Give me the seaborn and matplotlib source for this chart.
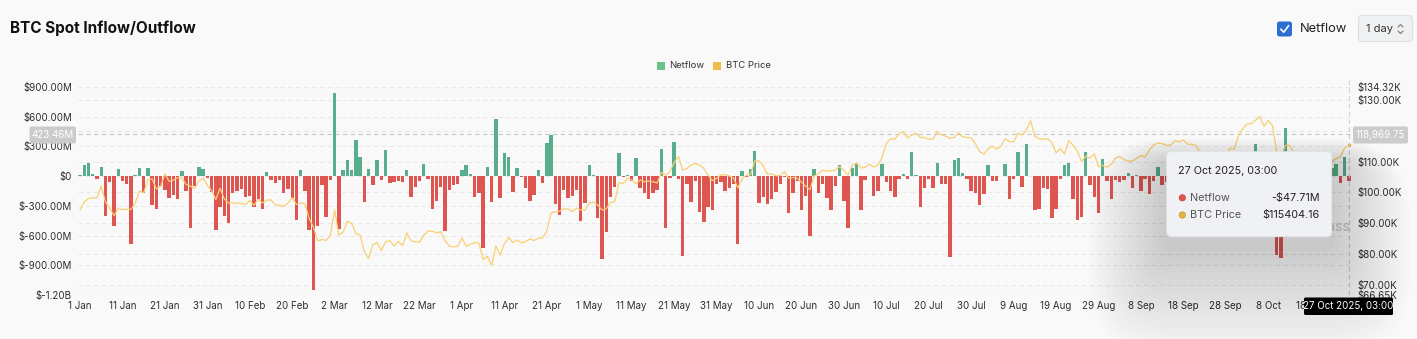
import numpy as np
import pandas as pd
import matplotlib
matplotlib.use("Agg")
import matplotlib.pyplot as plt
import matplotlib.transforms as mtransforms
from matplotlib.patches import FancyBboxPatch, Rectangle, Circle
import seaborn as sns

W, H = 1417, 339

# ---------------- data ----------------
dates = pd.date_range("2025-01-01", "2025-10-27", freq="D")

netflow_musd = [
    8, 110, 128, 25, -25, 95, -400, -60, -505, 70,
    -50, -75, -690, 15, 85, -170, 80, -295, -335, -95,
    -140, -220, -195, -235, 50, -155, -520, -95, 95, 75,
    -20, -165, -540, -315, -405, -470, -170, -150, -125, -215,
    -200, -310, -235, -330, 45, -40, -65, -35, -170, -125,
    -219, -444, 67, -145, -539, -1151, -505, -94, -411, -40,
    835, -529, 67, 158, 67, 360, 195, -262, 74, -91,
    158, -40, 259, -67, -57, -44, -61, 67, -209, -108,
    -51, 125, -27, -330, -253, -108, -556, -135, -94, -77,
    61, 108, 24, -212, -168, -724, 94, -263, 579, -219,
    230, 195, -162, 84, -10, -118, -253, -192, 61, -74,
    337, 411, -279, -394, -135, -219, -202, -141, -455, -276,
    108, 13, -421, -835, -566, -212, -111, 232, -13, 8,
    -51, 185, -118, -168, -229, -168, -135, 276, -525, -20,
    343, -27, -808, -84, -259, -51, -361, -465, -313, -337,
    -84, -57, -145, -118, -84, -690, 47, -5, 74, 253,
    -269, -212, -279, -229, -162, -84, -8, -370, -168, -50,
    -343, -202, -606, 74, -168, -84, -219, -343, -101, 111,
    -253, -522, 81, 118, -343, -40, 5, -202, -152, 118,
    -61, -145, -209, -27, 17, -27, 242, 10, -313, -118,
    -27, -118, 128, -84, -84, -815, 158, 185, 27, -24,
    -152, -168, -293, -185, 115, -50, -50, 5, 118, -229,
    -24, 242, -111, 320, 5, -343, -330, -118, -125, -418,
    -330, -24, 111, 135, -226, -438, -411, 242, -88, -212,
    -370, 175, -44, -226, -34, -57, -34, 34, -118, 8,
    -145, -30, -178, -50, 94, -94, -60, 40, -120, -200,
    30, -90, -150, 60, -40, -250, -180, -300, 80, -100,
    -50, 120, -70, 150, -90, -200, 90, 327, -130, -260,
    60, -180, -801, -825, 488, -110, 140, -220, -90, 70,
    -160, -60, 100, -140, -80, 84, 118, -74, 195, -47.71,
]

btc_price_k = [
    # Jan
    94.4, 96.9, 98.1, 98.2, 98.3, 102.1, 96.9, 95.0, 92.5, 94.7,
    94.5, 94.5, 94.5, 96.5, 100.5, 99.9, 104.1, 104.4, 101.1, 102.0,
    106.1, 103.6, 104.0, 104.8, 104.7, 102.6, 102.1, 101.3, 103.7, 104.7, 102.4,
    # Feb
    100.6, 97.7, 101.4, 97.9, 96.6, 96.6, 96.5, 96.5, 96.1, 97.4,
    95.8, 97.8, 96.6, 97.5, 97.6, 96.1, 95.8, 95.5, 96.6, 98.3,
    96.1, 96.6, 96.3, 91.5, 88.7, 84.3, 84.7, 84.4,
    # Mar
    86.1, 94.3, 86.1, 87.2, 90.6, 89.9, 86.7, 86.1, 80.7, 78.5,
    82.9, 83.7, 81.1, 84.0, 84.3, 82.6, 84.1, 82.7, 86.9, 84.2,
    84.0, 83.8, 86.1, 87.5, 87.4, 86.9, 87.2, 84.4, 82.6, 82.3, 82.5,
    # Apr
    85.2, 82.5, 83.1, 83.8, 83.5, 78.2, 79.2, 76.3, 82.6, 79.6,
    83.4, 85.3, 83.7, 84.5, 83.6, 84.0, 84.9, 84.4, 85.1, 85.2,
    87.5, 93.4, 93.7, 93.9, 94.7, 94.6, 93.8, 94.9, 94.3, 94.2,
    # May
    96.5, 96.9, 95.9, 94.3, 94.7, 96.8, 97.0, 103.2, 102.9, 104.6,
    104.1, 102.8, 104.1, 103.5, 103.7, 103.5, 103.1, 106.5, 105.6, 106.8,
    109.7, 111.7, 107.3, 107.8, 109.0, 109.4, 108.9, 107.8, 105.6, 103.9, 104.6,
    # Jun
    105.7, 105.8, 105.4, 104.7, 101.5, 104.4, 105.6, 105.8, 110.3, 110.3,
    108.7, 105.9, 106.1, 105.4, 105.6, 106.8, 104.6, 104.9, 104.6, 103.3,
    102.1, 100.9, 105.4, 106.0, 107.3, 106.9, 107.1, 107.3, 108.4, 107.1,
    # Jul
    105.7, 108.9, 109.6, 108.0, 108.2, 109.2, 108.3, 108.9, 111.3, 115.9,
    117.5, 117.4, 119.1, 119.8, 117.7, 118.7, 119.3, 117.9, 117.9, 117.3,
    117.4, 119.9, 118.8, 118.3, 117.6, 117.9, 119.4, 118.1, 117.9, 117.8, 115.8,
    # Aug
    113.3, 112.5, 114.2, 115.1, 114.1, 115.0, 117.5, 116.6, 116.5, 119.3,
    118.7, 120.2, 123.3, 118.4, 117.4, 117.4, 117.5, 116.3, 112.9, 114.3,
    112.5, 116.9, 115.4, 113.5, 110.1, 111.8, 111.2, 112.6, 108.4, 108.8, 108.2,
    # Sep
    109.2, 111.2, 111.7, 110.7, 110.2, 110.2, 111.1, 112.0, 111.5, 113.9,
    115.5, 116.1, 115.9, 115.3, 115.4, 116.8, 116.5, 117.1, 115.7, 115.7,
    115.3, 112.7, 112.0, 113.3, 109.0, 109.7, 109.7, 112.1, 114.4, 114.1,
    # Oct
    118.6, 120.7, 122.3, 122.4, 123.5, 124.7, 121.5, 123.4, 121.7, 113.2,
    110.7, 115.3, 115.3, 113.1, 110.8, 108.2, 106.5, 107.2, 108.7, 110.6,
    108.5, 107.6, 110.1, 111.0, 111.6, 114.5, 115.40416,
]

left_ticks_m = [900, 600, 300, 0, -300, -600, -900, -1200]
left_tick_labels = ["$900.00M", "$600.00M", "$300.00M", "$0", "$-300.00M",
                    "$-600.00M", "$-900.00M", "$-1.20B"]
right_ticks_k = [134.32, 130, 120, 110, 100, 90, 80, 70, 66.65]
right_tick_labels = ["$134.32K", "$130.00K", "", "$110.00K", "$100.00K",
                     "$90.00K", "$80.00K", "$70.00K", "$66.65K"]
cursor_netflow_label = "423.46M"
cursor_netflow_m = 423.46
cursor_price_label = "118,969.75"
tooltip_date = "27 Oct 2025, 03:00"
tooltip_netflow = "-$47.71M"
tooltip_price = "$115404.16"

# ---------------- style ----------------
BG = "#f9f9f9"
GREEN = "#58ae8c"
RED = "#df5550"
YEL = "#f9cf72"
LEG_GREEN = "#6cc48c"
LEG_YEL = "#efbb4c"
GRID = "#e8e8e8"
TXT = "#2e2e2e"

sns.set_theme(style="white")
plt.rcParams["font.family"] = ["Inter", "DejaVu Sans"]

fig = plt.figure(figsize=(W / 100, H / 100), dpi=100, facecolor=BG)


def px(x0, y0, x1, y1):
    return [x0 / W, 1 - y1 / H, (x1 - x0) / W, (y1 - y0) / H]


ax = fig.add_axes(px(77.9, 87, 1351, 295))
ax.set_facecolor("none")

df = pd.DataFrame({"day": np.arange(len(dates)), "netflow": netflow_musd,
                   "price": np.array(btc_price_k) * 1000})
df["dir"] = np.where(df["netflow"] >= 0, "in", "out")

sns.barplot(data=df, x="day", y="netflow", hue="dir",
            palette={"in": GREEN, "out": RED}, dodge=False, width=0.8,
            legend=False, ax=ax, saturation=1, errorbar=None,
            native_scale=True, zorder=2, linewidth=0)
ax.set_xlim(-0.5, len(dates) - 0.5)
ax.set_ylim(-1200, 900)
ax.set_yticks(left_ticks_m)
ax.set_yticklabels(left_tick_labels)
xt = np.arange(0, len(dates), 10)
ax.set_xticks(xt)
ax.set_xticklabels([f"{dates[i].day} {dates[i].strftime('%b')}" for i in xt])
ax.tick_params(axis="both", length=0, labelsize=7, colors=TXT)
ax.tick_params(axis="y", pad=4.3)
ax.tick_params(axis="x", pad=4.6)
ax.set_xlabel("")
ax.set_ylabel("")
for s in ax.spines.values():
    s.set_visible(False)

for v in left_ticks_m:
    ax.axhline(v, color=GRID, lw=0.8, ls=(0, (4, 3)), zorder=0)

ax2 = ax.twinx()
ax2.set_ylim(66650, 134320)
trans = mtransforms.blended_transform_factory(ax.transAxes, ax2.transData)
for v in right_ticks_k:
    ax.plot([0, 1], [v * 1000, v * 1000], transform=trans, color=GRID,
            lw=0.8, ls=(0, (4, 3)), zorder=0)

sns.lineplot(data=df, x="day", y="price", ax=ax2, color=YEL, lw=0.9, zorder=3)
ax2.plot(df["day"].iloc[-1], df["price"].iloc[-1], "o", ms=3.2, color="#f0b440",
         mec="white", mew=0.5, zorder=4)
ax2.set_yticks([v * 1000 for v in right_ticks_k])
ax2.set_yticklabels(right_tick_labels)
ax2.tick_params(axis="y", length=0, labelsize=7, colors=TXT, pad=4.3)
ax2.set_ylabel("")
for s in ax2.spines.values():
    s.set_visible(False)

# crosshair
ax.axhline(cursor_netflow_m, color="#c4c4c4", lw=0.8, ls=(0, (4, 3)), zorder=1)

# ---------------- overlay (pixel coords) ----------------
ov = fig.add_axes([0, 0, 1, 1], zorder=10)
ov.set_xlim(0, W)
ov.set_ylim(H, 0)
ov.axis("off")
ov.patch.set_alpha(0)

# vertical crosshair
ov.plot([1348.8, 1348.8], [80, 300], color="#cfcfcf", lw=0.8, ls=(0, (4, 3)), zorder=1)

# title
ov.text(10, 28, "BTC Spot Inflow/Outflow", fontsize=11, fontweight="bold",
        color="#111111", va="center", ha="left")

# top-right controls
ov.add_patch(FancyBboxPatch((1277, 21.5), 15, 15, boxstyle="round,pad=0,rounding_size=2.5",
                            fc="#2b6fd3", ec="none"))
ov.plot([1280.8, 1283.8, 1288.6], [29.2, 32.2, 25.6], color="white", lw=1.2,
        solid_capstyle="round", solid_joinstyle="round")
ov.text(1300, 29, "Netflow", fontsize=9.3, color="#222222", va="center", ha="left")
ov.add_patch(FancyBboxPatch((1358.5, 15.5), 54, 26, boxstyle="round,pad=0,rounding_size=4",
                            fc="#eef0f2", ec="#dcdfe3", lw=0.8))
ov.text(1366, 29, "1 day", fontsize=8, color="#333333", va="center", ha="left")
ov.plot([1398, 1400.5, 1403], [27, 24.5, 27], color="#777777", lw=0.8)
ov.plot([1398, 1400.5, 1403], [31, 33.5, 31], color="#777777", lw=0.8)

# legend
ov.add_patch(Rectangle((657, 61.5), 8, 8, fc=LEG_GREEN, ec="none"))
ov.text(669.5, 65.5, "Netflow", fontsize=6.8, color="#333333", va="center", ha="left")
ov.add_patch(Rectangle((713, 61.5), 8, 8, fc=LEG_YEL, ec="none"))
ov.text(725.5, 65.5, "BTC Price", fontsize=6.8, color="#333333", va="center", ha="left")

# crosshair labels
ov.add_patch(FancyBboxPatch((29.5, 126.5), 46.5, 17, boxstyle="round,pad=0,rounding_size=2",
                            fc="#cbcbcb", ec="none"))
ov.text(52.7, 135.2, cursor_netflow_label, fontsize=7, color="white", va="center", ha="center")
ov.add_patch(FancyBboxPatch((1353, 126.5), 55, 17, boxstyle="round,pad=0,rounding_size=2",
                            fc="#cbcbcb", ec="none"))
ov.text(1380.5, 135.2, cursor_price_label, fontsize=7, color="white", va="center", ha="center")

# bottom date label
ov.add_patch(FancyBboxPatch((1304, 297.5), 89, 17.5, boxstyle="round,pad=0,rounding_size=1.5",
                            fc="black", ec="none", zorder=5))
ov.text(1348.5, 306.3, tooltip_date, fontsize=7, color="white", va="center",
        ha="center", zorder=6)

# watermark (mostly hidden behind tooltip)
ov.text(1350, 226.5, "coinglass", fontsize=10, color="#cfcfcf", va="center",
        ha="right", zorder=1)

# tooltip shadow
for i in range(16):
    g = 3 + i * 5
    ov.add_patch(FancyBboxPatch((1166.7 - g, 151.7 - g * 0.3 + 10), 165 + 2 * g, 85 + g * 1.7,
                                boxstyle=f"round,pad=0,rounding_size={4 + g}",
                                fc="#000000", ec="none", alpha=0.013, zorder=2))
ov.add_patch(FancyBboxPatch((1166.7, 151.7), 165, 85, boxstyle="round,pad=0,rounding_size=5",
                            fc="#eff1f4", ec="#e3e6ea", lw=0.6, zorder=3))
ov.text(1178, 171, tooltip_date, fontsize=7.8, color="#222222", va="center", ha="left", zorder=4)
ov.add_patch(Circle((1182.3, 197.8), 3.2, fc=RED, ec="#b33", lw=0.4, zorder=4))
ov.text(1190, 197.8, "Netflow", fontsize=7.8, color="#555555", va="center", ha="left", zorder=4)
ov.text(1319.5, 197.8, tooltip_netflow, fontsize=7.8, color="#222222", va="center",
        ha="right", zorder=4)
ov.add_patch(Circle((1182.3, 215), 3.2, fc="#e6b43c", ec="#b88a20", lw=0.4, zorder=4))
ov.text(1190, 215, "BTC Price", fontsize=7.8, color="#555555", va="center", ha="left", zorder=4)
ov.text(1319.5, 215, tooltip_price, fontsize=7.8, color="#222222", va="center",
        ha="right", zorder=4)

fig.savefig("out.png", dpi=100, facecolor=BG)
